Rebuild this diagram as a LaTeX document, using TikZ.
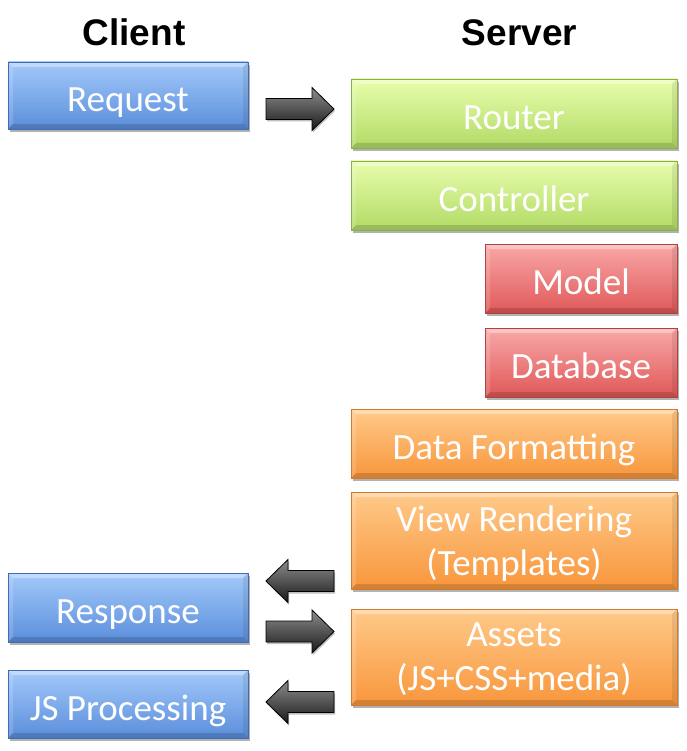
\documentclass[tikz,border=0pt]{standalone}
\usepackage{fontspec}
\setmainfont{Carlito}
\newfontfamily\hdrfont{Liberation Sans}
\usetikzlibrary{shadows}
\definecolor{bluetop}{HTML}{A3C9FA}
\definecolor{bluebot}{HTML}{5A8EDB}
\definecolor{blueedge}{HTML}{3F6DB5}
\definecolor{greentop}{HTML}{E8FDAC}
\definecolor{greenbot}{HTML}{B2DB66}
\definecolor{greenedge}{HTML}{8AAE4A}
\definecolor{redtop}{HTML}{F9A8A8}
\definecolor{redbot}{HTML}{E05858}
\definecolor{rededge}{HTML}{B54040}
\definecolor{orangetop}{HTML}{FFCA8A}
\definecolor{orangebot}{HTML}{F8963C}
\definecolor{orangeedge}{HTML}{CF7A2C}
\tikzset{
  box/.style={rectangle, draw=#1edge, line width=0.6pt,
    top color=#1top, bottom color=#1bot,
    text=white, font=\fontsize{37}{44}\selectfont, align=center,
    inner sep=0pt, text height=32pt, text depth=0pt,
    drop shadow={shadow xshift=1.5pt, shadow yshift=-3pt, opacity=0.3, fill=black},
    path picture={
      \fill[white,opacity=0.35]
        (path picture bounding box.north west) -- (path picture bounding box.north east)
        -- ([xshift=-5pt,yshift=-5pt]path picture bounding box.north east)
        -- ([xshift=5pt,yshift=-5pt]path picture bounding box.north west) -- cycle;
      \fill[black,opacity=0.15]
        (path picture bounding box.south west) -- (path picture bounding box.south east)
        -- ([xshift=-5pt,yshift=5pt]path picture bounding box.south east)
        -- ([xshift=5pt,yshift=5pt]path picture bounding box.south west) -- cycle;
      \fill[black,opacity=0.08]
        (path picture bounding box.north east) -- (path picture bounding box.south east)
        -- ([xshift=-5pt,yshift=5pt]path picture bounding box.south east)
        -- ([xshift=-5pt,yshift=-5pt]path picture bounding box.north east) -- cycle;
      \fill[white,opacity=0.15]
        (path picture bounding box.north west) -- (path picture bounding box.south west)
        -- ([xshift=5pt,yshift=5pt]path picture bounding box.south west)
        -- ([xshift=5pt,yshift=-5pt]path picture bounding box.north west) -- cycle;
    }},
  twoline/.style={text height={}, text depth=-6pt},
  header/.style={font=\hdrfont\bfseries\fontsize{37}{40}\selectfont, text=black, inner sep=0pt, anchor=base},
  blockarrow/.style={draw=black, line width=0.8pt, top color=black!45, bottom color=black!90, line join=miter,
    drop shadow={shadow xshift=1pt, shadow yshift=-2pt, opacity=0.25, fill=black}},
  rarr/.pic={\path[blockarrow] (-34,-10.5) -- (12,-10.5) -- (12,-21.5) -- (34,0) -- (12,21.5) -- (12,10.5) -- (-34,10.5) -- cycle;},
  larr/.pic={\path[blockarrow] (34,-10.5) -- (-12,-10.5) -- (-12,-21.5) -- (-34,0) -- (-12,21.5) -- (-12,10.5) -- (34,10.5) -- cycle;}
}
\begin{document}
\begin{tikzpicture}[x=1pt,y=-1pt]
\useasboundingbox[fill=white] (0,0) rectangle (686,751);
% headers
\node[header] (hclient) at (134,46) {Client};
\node[header] (hserver) at (519.5,46) {Server};
% client column
\node[box=blue, minimum width=240, minimum height=67] (req) at (128,95.5) {Request};
\node[box=blue, minimum width=240, minimum height=69] (resp) at (128,607.5) {Response};
\node[box=blue, minimum width=240, minimum height=68] (jsp) at (128,704) {JS Processing};
% server column
\node[box=green, minimum width=326, minimum height=69] (router) at (514,113.5) {Router};
\node[box=green, minimum width=326, minimum height=69] (ctrl) at (514,195.5) {Controller};
\node[box=red, minimum width=192, minimum height=69] (model) at (581,278.5) {Model};
\node[box=red, minimum width=192, minimum height=69] (db) at (581,362.5) {Database};
\node[box=orange, minimum width=326, minimum height=69] (fmt) at (514,443.5) {Data Formatting};
\node[box=orange, twoline, minimum width=326, minimum height=97] (view) at (514,540.5) {View Rendering\\(Templates)};
\node[box=orange, twoline, minimum width=326, minimum height=96] (assets) at (514,657) {Assets\\(JS+CSS+media)};
% arrows
\pic at (300,109) {rarr};
\pic at (300,581) {larr};
\pic at (300,631.5) {rarr};
\pic at (300,702) {larr};
\end{tikzpicture}
\end{document}
